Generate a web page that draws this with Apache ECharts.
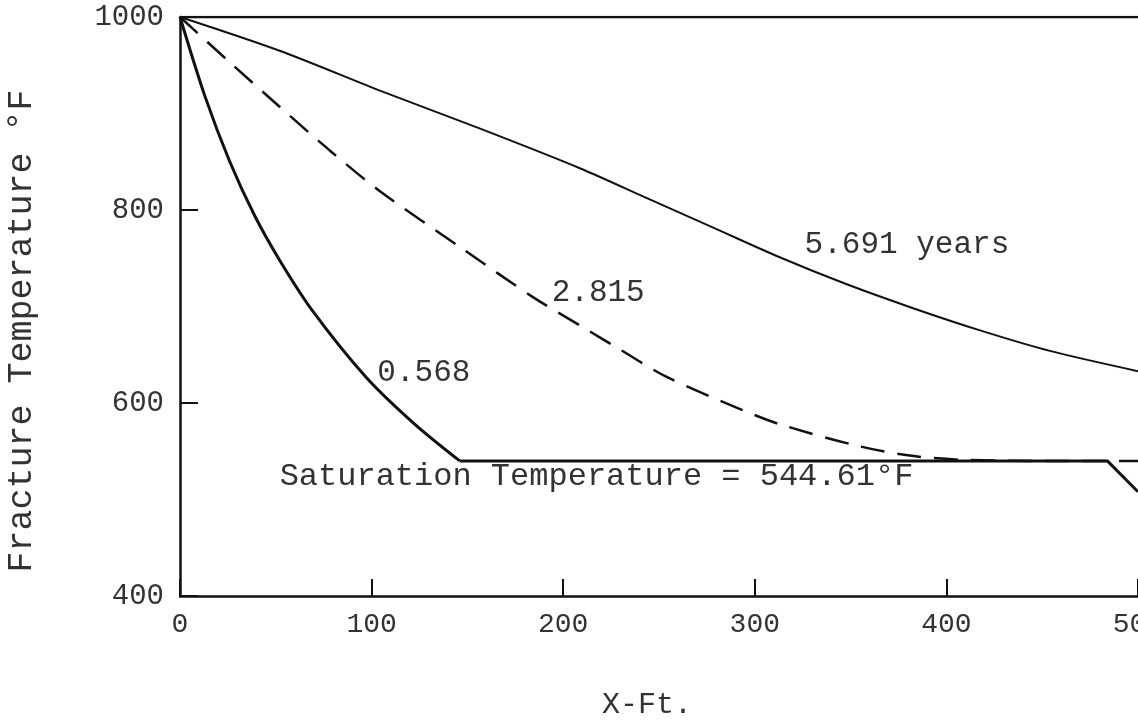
<!DOCTYPE html>
<html>
<head>
<meta charset="utf-8">
<script src="https://cdn.jsdelivr.net/npm/echarts@6/dist/echarts.min.js"></script>
<style>
html,body{margin:0;padding:0;background:#fff;}
#c{width:1138px;height:725px;}
</style>
</head>
<body>
<div id="c"></div>
<script>
// ---- data (x in ft, temperature in °F) ----
const xTicks = [0, 100, 200, 300, 400, 500];
const yTicks = [400, 600, 800, 1000];

const initialLine = [[0, 1000], [500, 1000]];

const curve0568 = [[0, 1000], [13, 918], [26, 850], [39, 794], [52, 748], [69, 696], [97, 627], [122, 579], [146, 540]];
const curve0568Tail = [[146, 540], [484, 540], [500, 508]];

const curve2815 = [[0, 1000], [26, 953], [52, 907], [78, 862], [104, 820], [148, 759], [184, 710], [209, 680], [230, 655], [254, 627], [292, 594], [313, 578], [355, 555], [383, 545], [410, 541], [455, 540], [500, 540]];

const curve5691 = [[0, 1000], [52, 965], [104, 924], [157, 884], [209, 843], [244, 812], [278, 782], [313, 751], [348, 723], [383, 698], [418, 675], [454, 654], [500, 633]];

const labelTexts = ['0.568', '2.815', '5.691 years', 'Saturation Temperature = 544.61°F'];
const labelAnchors = [[103, 631], [194, 714], [326, 764], [52, 524]];
const labelSizes = [31, 31, 31, 32];
const yTitle = 'Fracture Temperature °F';
const xTitle = 'X-Ft.';

// ---- chart ----
const FONT = 'Liberation Mono';
const INK = '#111';
const TXT = '#333';
const chart = echarts.init(document.getElementById('c'), null, {renderer: 'canvas'});

function lineSeries(data, width, extra) {
  return Object.assign({
    type: 'line', data: data, symbol: 'none', silent: true, animation: false,
    lineStyle: {color: INK, width: width}
  }, extra || {});
}

chart.setOption({
  backgroundColor: '#fff',
  animation: false,
  grid: {left: 180, right: 0, top: 17, bottom: 129, containLabel: false, outerBoundsMode: 'none'},
  xAxis: {
    type: 'value', min: xTicks[0], max: xTicks[xTicks.length - 1], interval: 100,
    axisLine: {show: true, lineStyle: {color: INK, width: 2.5}},
    axisTick: {show: true, inside: true, length: 17, lineStyle: {color: INK, width: 2}},
    axisLabel: {fontFamily: FONT, fontSize: 28, color: TXT, margin: 15, formatter: function (v) { return String(v); }},
    splitLine: {show: false}
  },
  yAxis: {
    type: 'value', min: yTicks[0], max: yTicks[yTicks.length - 1], interval: 200,
    axisLine: {show: true, lineStyle: {color: INK, width: 2.5}},
    axisTick: {show: true, inside: true, length: 18, lineStyle: {color: INK, width: 2}},
    axisLabel: {fontFamily: FONT, fontSize: 29, color: TXT, margin: 16, formatter: function (v) { return String(v); }},
    splitLine: {show: false}
  },
  series: [
    lineSeries(initialLine, 2.5),
    lineSeries(curve0568, 3, {smooth: 0.3}),
    lineSeries(curve0568Tail, 3),
    lineSeries(curve2815, 2.5, {smooth: 0.3, lineStyle: {color: INK, width: 2.5, type: [24, 13]}}),
    lineSeries(curve5691, 2, {smooth: 0.3})
  ]
});

const graphics = labelTexts.map(function (t, i) {
  const p = chart.convertToPixel({gridIndex: 0}, labelAnchors[i]);
  return {
    type: 'text', x: p[0], y: p[1], silent: true,
    style: {text: t, fontFamily: FONT, fontSize: labelSizes[i], fill: TXT, align: 'left', verticalAlign: 'middle'}
  };
});
graphics.push({
  type: 'text', x: 22, y: 331, rotation: Math.PI / 2, silent: true,
  style: {text: yTitle, fontFamily: FONT, fontSize: 35, fill: TXT, align: 'center', verticalAlign: 'middle'}
});
graphics.push({
  type: 'text', x: 647, y: 705, silent: true,
  style: {text: xTitle, fontFamily: FONT, fontSize: 30, fill: TXT, align: 'center', verticalAlign: 'middle'}
});
chart.setOption({graphic: graphics});
</script>
</body>
</html>
